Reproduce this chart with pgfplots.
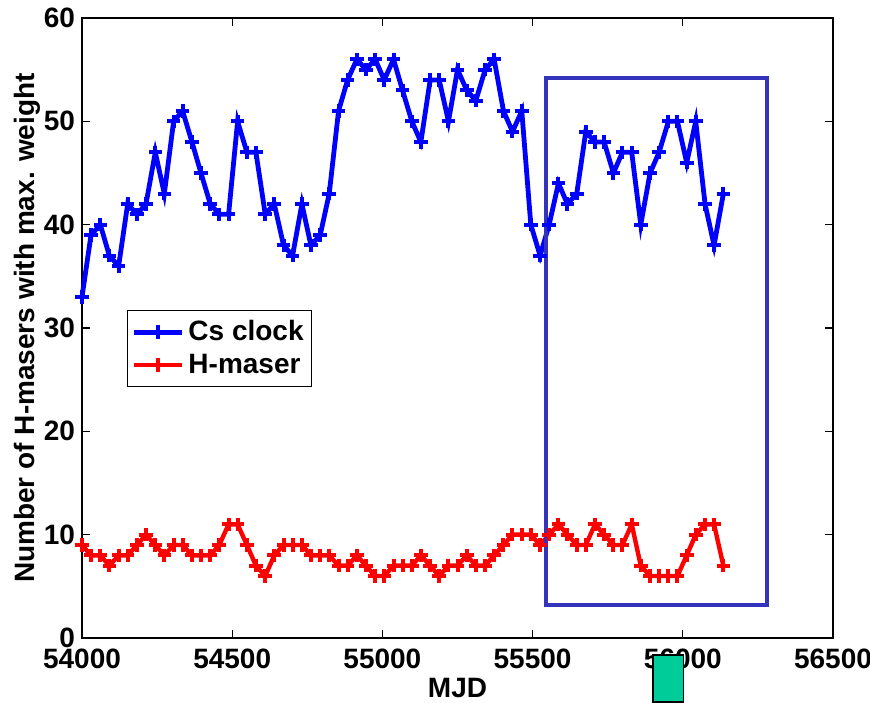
\documentclass[border=0pt]{standalone}
\usepackage{fontspec}
\setmainfont{Liberation Sans}
\usepackage{pgfplots}
\usepackage{pgfplotstable}
\pgfplotsset{compat=1.18}
\usetikzlibrary{calc}
\definecolor{boxblue}{RGB}{51,51,187}
\definecolor{tealg}{RGB}{0,204,153}

\pgfplotstableread{
mjd cs hm
54000 33 9
54030 39 8
54061 40 8
54091 37 7
54122 36 8
54152 42 8
54183 41 9
54213 42 10
54244 47 9
54274 43 8
54305 50 9
54335 51 9
54366 48 8
54396 45 8
54427 42 8
54457 41 9
54488 41 11
54518 50 11
54549 47 9
54579 47 7
54610 41 6
54640 42 8
54671 38 9
54701 37 9
54732 42 9
54762 38 8
54793 39 8
54823 43 8
54854 51 7
54884 54 7
54915 56 8
54945 55 7
54976 56 6
55006 54 6
55037 56 7
55067 53 7
55098 50 7
55128 48 8
55159 54 7
55189 54 6
55220 50 7
55250 55 7
55281 53 8
55311 52 7
55342 55 7
55372 56 8
55403 51 9
55433 49 10
55464 51 10
55494 40 10
55525 37 9
55555 40 10
55586 44 11
55616 42 10
55647 43 9
55677 49 9
55708 48 11
55738 48 10
55769 45 9
55799 47 9
55830 47 11
55860 40 7
55891 45 6
55921 47 6
55952 50 6
55982 50 6
56013 46 8
56043 50 10
56074 42 11
56104 38 11
56135 43 7
}\datatable

\begin{document}
\begin{tikzpicture}
\begin{axis}[name=ax, scale only axis, width=375.5pt, height=310pt,
  xmin=54000, xmax=56500, ymin=0, ymax=60,
  xtick={54000,54500,55000,55500,56000,56500},
  ytick={0,10,20,30,40,50,60},
  scaled x ticks=false, scaled y ticks=false,
  tick align=inside, major tick length=4pt,
  axis line style={line width=0.6pt},
  tick style={black, line width=0.6pt},
  font=\fontsize{14}{16}\selectfont\bfseries,
  ticklabel style={font=\fontsize{14}{16}\selectfont\bfseries},
  xticklabel style={yshift=-2pt},
  /pgf/number format/assume math mode=true,
  /pgf/number format/set thousands separator={},
  xlabel={MJD}, ylabel={Number of H-masers with max. weight},
  xlabel style={font=\fontsize{14}{16}\selectfont\bfseries, yshift=2pt},
  ylabel style={font=\fontsize{14}{16}\selectfont\bfseries, yshift=-5pt},
  legend style={at={(0.06,0.529)}, anchor=north west, draw=black, line width=0.6pt,
    font=\fontsize{14}{16}\selectfont\bfseries, legend cell align=left,
    inner xsep=2pt, inner ysep=3pt, row sep=1pt},
  legend image code/.code={
    \draw[#1, mark repeat=2, mark phase=2] plot coordinates {(0pt,0pt) (12pt,0pt) (24pt,0pt)};
  },
  clip=false]
\addplot[blue, line width=2.4pt, mark=+, mark size=3.4pt, mark options={line width=2pt, solid}] table[x=mjd, y=cs] {\datatable};
\addlegendentry{Cs clock}
\addplot[red, line width=2.2pt, mark=+, mark size=3.4pt, mark options={line width=2pt, solid}] table[x=mjd, y=hm] {\datatable};
\addlegendentry{H-maser}
\draw[boxblue, line width=2pt] (axis cs:55545,3.2) rectangle (axis cs:56280,54.2);
\end{axis}
\draw[fill=tealg, draw=black, line width=0.6pt] ($(ax.south west)+(285.5pt,-8.5pt)$) rectangle ($(ax.south west)+(300.6pt,-32pt)$);
\pgfresetboundingbox
\path[use as bounding box] ($(ax.south west)+(-41pt,-32pt)$) rectangle ($(ax.north east)+(18.5pt,9pt)$);
\end{tikzpicture}
\end{document}
